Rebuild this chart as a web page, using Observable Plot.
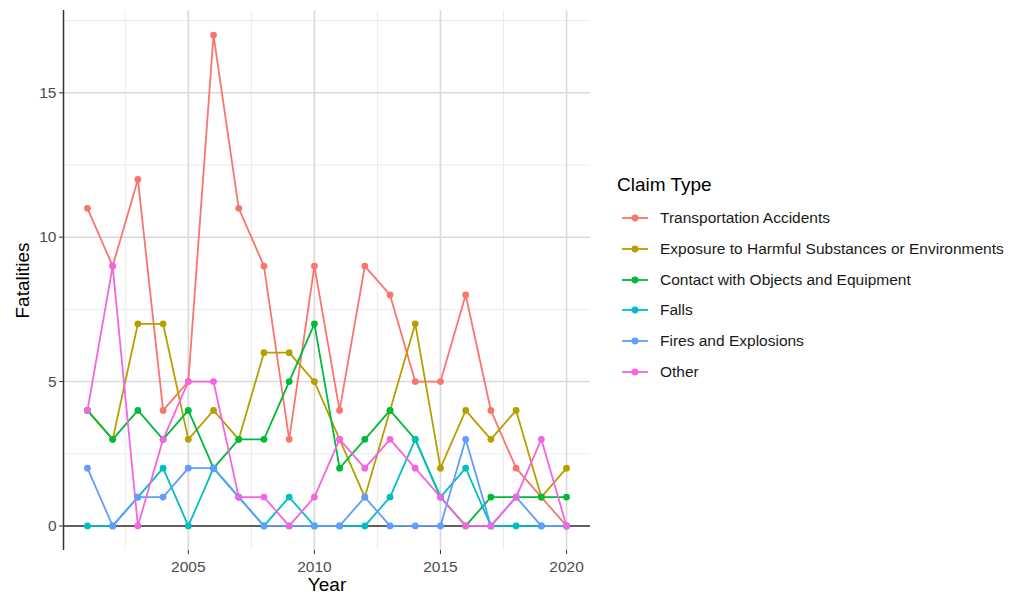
<!DOCTYPE html>
<html><head><meta charset="utf-8">
<script src="https://cdn.jsdelivr.net/npm/d3@7"></script>
<script src="https://cdn.jsdelivr.net/npm/@observablehq/plot@0.6"></script>
<style>
body{margin:0;background:#fff;font-family:"Liberation Sans",Arial,sans-serif;}
#wrap{position:relative;width:1018px;height:594px;overflow:hidden;}
#wrap > svg{position:absolute;left:0;top:0;}
g[aria-label="x-axis label"] text, g[aria-label="y-axis label"] text{font-size:19px;fill:#000;}
g[aria-label="x-axis label"], g[aria-label="y-axis label"]{font-size:19px;fill:#000;}
.lg-title{position:absolute;left:617px;top:175px;font-size:19px;line-height:20px;color:#000;white-space:nowrap;}
.lg-row{position:absolute;left:622px;height:20px;display:flex;align-items:center;white-space:nowrap;font-size:15.5px;color:#1a1a1a;}
.lg-row svg{flex:none;display:block;}
.lg-row span{margin-left:12px;}
</style></head><body><div id="wrap"></div>
<script>
const years = [2001,2002,2003,2004,2005,2006,2007,2008,2009,2010,2011,2012,2013,2014,2015,2016,2017,2018,2019,2020];
const transportation = [11,9,12,4,5,17,11,9,3,9,4,9,8,5,5,8,4,2,1,0];
const exposure       = [4,3,7,7,3,4,3,6,6,5,3,1,4,7,2,4,3,4,1,2];
const contact        = [4,3,4,3,4,2,3,3,5,7,2,3,4,3,1,0,1,1,1,1];
const falls          = [0,0,1,2,0,2,1,0,1,0,0,0,1,3,1,2,0,0,0,0];
const fires          = [2,0,1,1,2,2,1,0,0,0,0,1,0,0,0,3,0,1,0,0];
const other          = [4,9,0,3,5,5,1,1,0,1,3,2,3,2,1,0,0,1,3,0];
const claimTypes = ["Transportation Accidents","Exposure to Harmful Substances or Environments","Contact with Objects and Equipment","Falls","Fires and Explosions","Other"];
const colors = ["#F8766D","#B79F00","#00BA38","#00BFC4","#619CFF","#F564E3"];
const xMajor = [2005,2010,2015,2020];
const xMinor = [2002.5,2007.5,2012.5,2017.5];
const yMajor = [0,5,10,15];
const yMinor = [2.5,7.5,12.5,17.5];

const seriesList = [transportation, exposure, contact, falls, fires, other];
const data = [];
seriesList.forEach((vals,i)=>years.forEach((yr,j)=>data.push({year:yr, value:vals[j], type:claimTypes[i]})));

const chart = Plot.plot({
  width:1018, height:594,
  marginLeft:63, marginRight:428, marginTop:10, marginBottom:44,
  style:{fontFamily:"Liberation Sans, Arial, sans-serif", background:"transparent"},
  x:{domain:[2000.05,2020.95]},
  y:{domain:[-0.85,17.85]},
  color:{domain:claimTypes, range:colors},
  marks:[
    Plot.gridX(xMinor,{stroke:"#ebebeb", strokeOpacity:1, strokeWidth:1}),
    Plot.gridY(yMinor,{stroke:"#ebebeb", strokeOpacity:1, strokeWidth:1}),
    Plot.gridX(xMajor,{stroke:"#d9d9d9", strokeOpacity:1, strokeWidth:1.6}),
    Plot.gridY(yMajor,{stroke:"#d9d9d9", strokeOpacity:1, strokeWidth:1.6}),
    Plot.ruleY([0],{stroke:"#333", strokeWidth:1.5}),
    Plot.ruleX([2000.05],{stroke:"#333", strokeWidth:1.5}),
    Plot.line(data,{x:"year", y:"value", z:"type", stroke:"type", strokeWidth:1.8}),
    Plot.dot(data,{x:"year", y:"value", fill:"type", r:3.4}),
    Plot.axisX(xMajor,{tickSize:4, tickPadding:6, tickFormat:d=>String(d), fontSize:15.5, fill:"#4d4d4d", stroke:"#333", label:"Year", labelAnchor:"center", labelOffset:40, labelArrow:"none"}),
    Plot.axisY(yMajor,{tickSize:4, tickPadding:3, tickFormat:d=>String(d), fontSize:15.5, fill:"#4d4d4d", stroke:"#333", label:"Fatalities", labelAnchor:"center", labelOffset:48, labelArrow:"none"})
  ]
});
const wrap = document.getElementById("wrap");
wrap.appendChild(chart);

const t = document.createElement("div");
t.className = "lg-title"; t.textContent = "Claim Type";
wrap.appendChild(t);
claimTypes.forEach((name,i)=>{
  const row = document.createElement("div");
  row.className = "lg-row";
  row.style.top = (218 + i*30.75 - 10) + "px";
  row.innerHTML = `<svg width="26" height="20"><line x1="0" x2="26" y1="10" y2="10" stroke="${colors[i]}" stroke-width="1.8"/><circle cx="13" cy="10" r="3.4" fill="${colors[i]}"/></svg><span>${name}</span>`;
  wrap.appendChild(row);
});
</script></body></html>
